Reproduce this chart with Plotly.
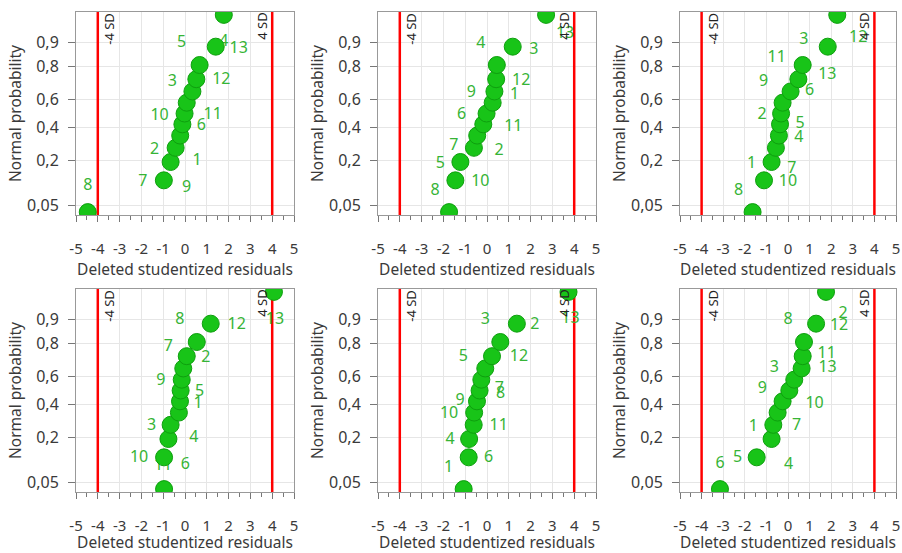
import plotly.graph_objects as go
from statistics import NormalDist

# ---------------- data ----------------
prob = [0.0385, 0.1154, 0.1923, 0.2692, 0.3462, 0.4231, 0.5, 0.5769,
        0.6538, 0.7308, 0.8077, 0.8846, 0.9615]

p1_x = [-4.46, -0.97, -0.66, -0.43, -0.22, -0.12, -0.02, 0.08, 0.34, 0.52, 0.67, 1.41, 1.78]
p1_labels = ["8", "7", "9", "2", "1", "6", "10", "11", "3", "12", "5", "13", "4"]

p2_x = [-1.74, -1.45, -1.22, -0.60, -0.45, -0.17, -0.02, 0.26, 0.34, 0.42, 0.45, 1.18, 2.71]
p2_labels = ["8", "10", "5", "7", "2", "11", "6", "1", "9", "12", "4", "3", "13"]

p3_x = [-1.64, -1.11, -0.76, -0.56, -0.42, -0.37, -0.32, -0.25, 0.12, 0.48, 0.68, 1.84, 2.28]
p3_labels = ["8", "10", "1", "7", "4", "5", "2", "6", "9", "13", "11", "3", "12"]

p4_x = [-0.96, -0.96, -0.76, -0.66, -0.28, -0.23, -0.20, -0.15, -0.08, 0.08, 0.54, 1.18, 4.08]
p4_labels = ["11", "10", "6", "3", "4", "1", "5", "9", "7", "2", "8", "12", "13"]

p5_x = [-1.07, -0.84, -0.82, -0.61, -0.59, -0.46, -0.34, -0.26, -0.08, 0.23, 0.61, 1.37, 3.74]
p5_labels = ["1", "6", "4", "11", "10", "9", "8", "7", "5", "12", "3", "2", "13"]

p6_x = [-3.15, -1.45, -0.76, -0.68, -0.48, -0.25, 0.06, 0.29, 0.63, 0.68, 0.74, 1.30, 1.76]
p6_labels = ["6", "5", "4", "1", "7", "10", "9", "3", "13", "11", "8", "12", "2"]

sd_limits = [-4, 4]
sd_texts = ["-4 SD", "4 SD"]
x_ticks = [-5, -4, -3, -2, -1, 0, 1, 2, 3, 4, 5]
x_ticktext = ["-5", "-4", "-3", "-2", "-1", "0", "1", "2", "3", "4", "5"]
p_ticks = [0.05, 0.2, 0.4, 0.6, 0.8, 0.9]
p_ticktext = ["0,05", "0,2", "0,4", "0,6", "0,8", "0,9"]

# ---------------- label placement (pixel offsets, style) ----------------
p1_off = [(0, -26), (-21, 2), (16, 26), (-21, 2), (17, 25), (19, 2), (-25, 2), (26, 12),
          (-20, -9), (25, 1), (-18, -22), (23, 2), (0, 27)]
p2_off = [(-14, -21), (25, 2), (-20, 2), (-20, -2), (22, 15), (30, 3), (-25, 1), (22, -8),
          (-23, 2), (25, 2), (-16, -21), (21, 3), (19, 19)]
p3_off = [(-14, -21), (24, 2), (-20, 2), (16, 21), (20, 2), (20, 0), (-19, 1), (27, -12),
          (-27, -9), (29, -4), (-26, -7), (-24, -7), (21, 23)]
p4_off = [(-1, -23), (-25, 1), (17, 26), (-19, 1), (15, 25), (18, 3), (19, 1), (-21, 1),
          (-15, -21), (19, 2), (-17, -22), (26, 1), (1, 28)]
p5_off = [(-15, -21), (20, 1), (-19, 1), (25, 1), (-25, 1), (-17, 0), (21, 3), (18, 9),
          (-22, -11), (27, 1), (-15, -22), (18, 1), (2, 27)]
p6_off = [(0, -25), (-19, 1), (17, 26), (-20, 2), (19, 13), (32, 3), (-27, -2), (-20, -12),
          (26, 0), (24, -2), (-16, -22), (23, 2), (17, 22)]

panels = [(p1_x, p1_labels, p1_off), (p2_x, p2_labels, p2_off), (p3_x, p3_labels, p3_off),
          (p4_x, p4_labels, p4_off), (p5_x, p5_labels, p5_off), (p6_x, p6_labels, p6_off)]

# ---------------- layout geometry ----------------
W, H = 902, 553
col_px = [(76, 294), (378, 596), (680, 896)]
row_px = [(12, 215), (289, 492)]
XR = [-5, 5]
ZR = [-1.82, 1.82]

nd = NormalDist()
z_pts = [nd.inv_cdf(p) for p in prob]
z_ticks = [nd.inv_cdf(p) for p in p_ticks]

FONT = "Noto Sans"
GREEN = "#18c418"
LABEL_GREEN = "#36b436"
TICKCOL = "#3a3a3a"
GRID = "#e6e6e6"
BORDER = "#999999"

fig = go.Figure()
layout = dict(width=W, height=H, margin=dict(l=0, r=0, t=0, b=0, autoexpand=False),
              paper_bgcolor="white", plot_bgcolor="white", showlegend=False,
              font=dict(family=FONT, size=13, color=TICKCOL))
annotations = []

for k, (xs, labs, offs) in enumerate(panels):
    r, c = divmod(k, 3)
    n = k + 1
    xa = "x" if n == 1 else f"x{n}"
    ya = "y" if n == 1 else f"y{n}"
    x0, x1 = col_px[c]
    y0, y1 = row_px[r]
    pxu = (x1 - x0) / (XR[1] - XR[0])
    pzu = (y1 - y0) / (ZR[1] - ZR[0])

    # red +-4 SD limit lines (spanning the full axis range)
    for lim in sd_limits:
        fig.add_trace(go.Scatter(x=[lim, lim], y=ZR, mode="lines",
                                 line=dict(color="#ff0000", width=2.5),
                                 xaxis=xa, yaxis=ya, hoverinfo="skip"))

    lx = [x + dx / pxu for x, (dx, dy) in zip(xs, offs)]
    lz = [z - dy / pzu for z, (dx, dy) in zip(z_pts, offs)]

    fig.add_trace(go.Scatter(x=lx, y=lz, mode="text", text=labs,
                             textfont=dict(family=FONT, size=16, color=LABEL_GREEN),
                             textposition="middle center", xaxis=xa, yaxis=ya,
                             hoverinfo="skip"))
    fig.add_trace(go.Scatter(x=xs, y=z_pts, mode="markers",
                             marker=dict(size=17, color=GREEN,
                                         line=dict(color="#0e9f0e", width=1)),
                             xaxis=xa, yaxis=ya))

    layout["xaxis" if n == 1 else f"xaxis{n}"] = dict(
        domain=[x0 / W, x1 / W], anchor=ya, range=XR, automargin=False,
        tickvals=x_ticks, ticktext=x_ticktext, ticks="outside", ticklen=6,
        tickcolor="#777777", ticklabelstandoff=14,
        minor=dict(dtick=0.5, tick0=0, ticks="outside", ticklen=4, tickcolor="#777777",
                   showgrid=False),
        showgrid=True, gridcolor=GRID, gridwidth=1, zeroline=False,
        showline=True, linecolor=BORDER, linewidth=1, mirror=True,
        tickfont=dict(family=FONT, size=15, color=TICKCOL),
        title=dict(text="Deleted studentized residuals", standoff=0,
                   font=dict(family=FONT, size=15.5, color=TICKCOL)))
    layout["yaxis" if n == 1 else f"yaxis{n}"] = dict(
        domain=[1 - y1 / H, 1 - y0 / H], anchor=xa, range=ZR, automargin=False,
        tickvals=z_ticks, ticktext=p_ticktext, ticks="outside", ticklen=7,
        tickcolor="#777777", ticklabelstandoff=6,
        showgrid=True, gridcolor=GRID, gridwidth=1, zeroline=False,
        showline=True, linecolor=BORDER, linewidth=1, mirror=True,
        tickfont=dict(family=FONT, size=16, color=TICKCOL),
        title=dict(text="Normal probability", standoff=1,
                   font=dict(family=FONT, size=15.5, color=TICKCOL)))

    for lim, txt in zip(sd_limits, sd_texts):
        annotations.append(dict(x=lim, xref=xa, y=1, yref=f"{ya} domain", text=txt,
                                showarrow=False, textangle=-90,
                                xanchor="center", yanchor="top",
                                xshift=11 if lim < 0 else -11, yshift=1,
                                font=dict(family=FONT, size=13, color="#222222")))

layout["annotations"] = annotations
fig.update_layout(**layout)
fig.write_html("out.html")
